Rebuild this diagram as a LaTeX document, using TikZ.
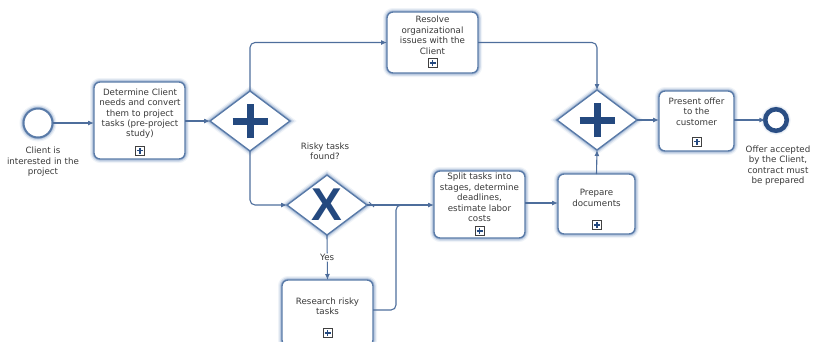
\documentclass[tikz,border=0pt]{standalone}
\usepackage{fontspec}
\setmainfont{DejaVu Sans}
\newfontfamily\gwfont{Liberation Sans}
\usetikzlibrary{shapes.geometric,arrows.meta}

\definecolor{edgeblue}{HTML}{4E6E9C}
\definecolor{nodeblue}{HTML}{5A7BA8}
\definecolor{glowblue}{HTML}{7F9CC4}
\definecolor{markblue}{HTML}{24497F}
\definecolor{endblue}{HTML}{2A4E84}
\definecolor{txtgray}{HTML}{3A3A3A}

\tikzset{
  halo/.style={
    preaction={draw=glowblue, line width=8pt, opacity=0.12},
    preaction={draw=glowblue, line width=5.5pt, opacity=0.25},
    preaction={draw=glowblue, line width=3.2pt, opacity=0.45}},
  task/.style={halo, draw=nodeblue, line width=1.4pt, fill=white,
    rounded corners=6pt, inner sep=0pt, outer sep=0pt},
  gate/.style={halo, diamond, draw=nodeblue, line width=1.4pt, fill=white,
    inner sep=0pt, outer sep=0pt, minimum width=80pt, minimum height=60pt},
  andgate/.style={gate, path picture={
    \draw[markblue, line width=7pt]
      (path picture bounding box.center) ++(-17.5pt,0pt) -- ++(35pt,0pt);
    \draw[markblue, line width=7pt]
      (path picture bounding box.center) ++(0pt,-17pt) -- ++(0pt,34pt);}},
  xglyph/.style={font=\gwfont\bfseries\fontsize{46}{46}\selectfont,
    text=markblue, inner sep=0pt},
  startev/.style={halo, circle, draw=nodeblue, line width=2pt, fill=white,
    minimum size=29pt, inner sep=0pt, outer sep=0pt},
  endev/.style={halo, circle, draw=endblue, line width=4.5pt, fill=white,
    minimum size=21.5pt, inner sep=0pt, outer sep=0pt},
  lbl/.style={font=\fontsize{8.7}{10.4}\selectfont, text=txtgray,
    align=center, inner sep=0pt},
  submark/.style={draw=black!75, line width=0.6pt, fill=white,
    minimum size=9pt, inner sep=0pt, path picture={
    \draw[markblue, line width=1.3pt]
      (path picture bounding box.center) ++(-3pt,0pt) -- ++(6pt,0pt);
    \draw[markblue, line width=1.3pt]
      (path picture bounding box.center) ++(0pt,-3pt) -- ++(0pt,6pt);}},
  flow/.style={draw=edgeblue, line width=1.1pt, rounded corners=5pt,
    -{Latex[length=6pt,width=5pt]}},
  seqline/.style={draw=edgeblue, line width=1.1pt, rounded corners=5pt},
}

\begin{document}
\begin{tikzpicture}[x=1pt, y=-1pt]
  \useasboundingbox (0,0) rectangle (814,341);

  % events
  \node[startev] (start) at (38,123) {};
  \node[lbl] (startlbl) at (43,161.7) {Client is\\interested in the\\project};
  \node[endev] (end) at (776,120) {};
  \node[lbl] (endlbl) at (778,165.4) {Offer accepted\\by the Client,\\contract must\\be prepared};

  % tasks
  \node[task, minimum width=91pt, minimum height=77pt] (t1) at (139.5,120.5) {};
  \node[lbl] (t1txt) at (140,113.7) {Determine Client\\needs and convert\\them to project\\tasks (pre-project\\study)};
  \node[submark] (t1mk) at (140,150.5) {};

  \node[task, minimum width=91pt, minimum height=61pt] (t2) at (432.5,42.5) {};
  \node[lbl] (t2txt) at (432.5,35.3) {Resolve\\organizational\\issues with the\\Client};
  \node[submark] (t2mk) at (432.5,63) {};

  \node[task, minimum width=75pt, minimum height=60pt] (t3) at (696.5,121) {};
  \node[lbl] (t3txt) at (696.5,111.7) {Present offer\\to the\\customer};
  \node[submark] (t3mk) at (697,141.5) {};

  \node[task, minimum width=91pt, minimum height=67pt] (t4) at (479.5,204.5) {};
  \node[lbl] (t4txt) at (479.5,197.5) {Split tasks into\\stages, determine\\deadlines,\\estimate labor\\costs};
  \node[submark] (t4mk) at (479.5,231) {};

  \node[task, minimum width=77pt, minimum height=60pt] (t5) at (596.5,204) {};
  \node[lbl] (t5txt) at (596.5,198) {Prepare\\documents};
  \node[submark] (t5mk) at (597,225) {};

  \node[task, minimum width=91pt, minimum height=66pt] (t6) at (327.5,313) {};
  \node[lbl] (t6txt) at (327.5,306) {Research risky\\tasks};
  \node[submark] (t6mk) at (327.5,333) {};

  % gateways
  \node[andgate] (g1) at (250,121) {};
  \node[andgate] (g2) at (597,120) {};
  \node[gate] (xg) at (327,205) {};
  \node[xglyph] (xgmark) at (327,205) {X};
  \node[lbl] (xglbl) at (325,151.3) {Risky tasks\\found?};

  % sequence flows
  \draw[flow] (start) -- (start -| t1.west);
  \draw[flow] (t1.east |- g1) -- (g1.west);
  \draw[flow] (g1.north) -- (g1.north |- t2.west) -- (t2.west);
  \draw[flow] (t2.east) -- (t2.east -| g2.north) -- (g2.north);
  \draw[flow] (g2.east) -- (g2.east -| t3.west);
  \draw[flow] (t3.east |- end) -- (end.west);
  \draw[flow] (g1.south) -- (g1.south |- xg.west) -- (xg.west);
  \draw[flow] (xg.south) -- (t6.north)
    node[lbl, fill=white, inner sep=1pt, pos=0.5] (yeslbl) {Yes};
  \draw[flow] (xg.east) -- (xg.east -| t4.west);
  % default-flow slash
  \draw[draw=edgeblue, line width=0.9pt] ([shift={(2pt,3pt)}]xg.east) -- ([shift={(7pt,-2pt)}]xg.east);
  \coordinate (join) at (396,205);
  \coordinate (joinend) at (404,205);
  \draw[seqline] ([yshift=3pt]t6.east) -| (join) -- (joinend);
  \draw[flow] (t4.east |- 0,203) -- (t5.west |- 0,203);
  \draw[flow] (t5.north) -- (g2.south);
\end{tikzpicture}
\end{document}
